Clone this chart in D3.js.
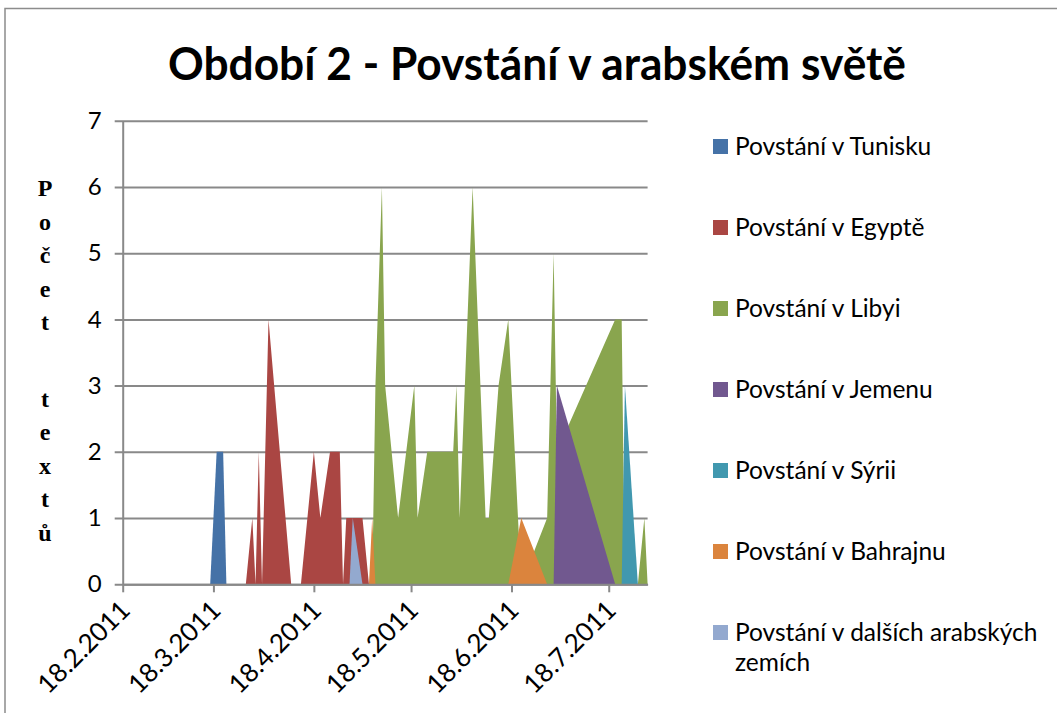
<!DOCTYPE html>
<html lang="cs">
<head>
<meta charset="utf-8">
<script src="https://cdn.jsdelivr.net/npm/d3@7"></script>
<style>
	body { margin: 0; background: #fff; }
	svg { display: block; font-family: Lato, 'Open Sans', sans-serif; }
</style>
</head>
<body>
<div id="chart"></div>
<script>
// THE DATA
const title = 'Období 2 - Povstání v arabském světě';
const yTitle = 'Počet textů';
const seriesNames = [
	'Povstání v Tunisku',
	'Povstání v Egyptě',
	'Povstání v Libyi',
	'Povstání v Jemenu',
	'Povstání v Sýrii',
	'Povstání v Bahrajnu',
	'Povstání v dalších arabských zemích'
];
const colours = ['#4572A7', '#AA4643', '#89A54E', '#71588F', '#4198AF', '#DB843D', '#93A9CF'];

// [date, number of texts] per series
const tunisia = [['17.3.2011', 0], ['19.3.2011', 2], ['21.3.2011', 2], ['22.3.2011', 0]];
const egypt = [
	['28.3.2011', 0], ['30.3.2011', 1], ['31.3.2011', 0], ['1.4.2011', 2], ['2.4.2011', 0],
	['4.4.2011', 4], ['11.4.2011', 0], ['14.4.2011', 0], ['18.4.2011', 2], ['20.4.2011', 1],
	['23.4.2011', 2], ['26.4.2011', 2], ['27.4.2011', 0], ['28.4.2011', 1], ['3.5.2011', 1],
	['5.5.2011', 0]
];
const libya = [
	['6.5.2011', 0], ['7.5.2011', 3], ['9.5.2011', 6], ['10.5.2011', 3], ['14.5.2011', 1],
	['19.5.2011', 3], ['20.5.2011', 1], ['23.5.2011', 2], ['31.5.2011', 2], ['1.6.2011', 3],
	['2.6.2011', 1], ['6.6.2011', 6], ['10.6.2011', 1], ['11.6.2011', 1], ['14.6.2011', 3],
	['17.6.2011', 4], ['21.6.2011', 0], ['29.6.2011', 1], ['1.7.2011', 5], ['2.7.2011', 2],
	['20.7.2011', 4], ['22.7.2011', 4], ['23.7.2011', 0], ['27.7.2011', 0], ['29.7.2011', 1],
	['30.7.2011', 0]
];
const yemen = [['1.7.2011', 0], ['2.7.2011', 3], ['20.7.2011', 0]];
const syria = [['22.7.2011', 0], ['23.7.2011', 3], ['27.7.2011', 0]];
const bahrain = [
	['5.5.2011', 0], ['6.5.2011', 1], ['7.5.2011', 0],
	['17.6.2011', 0], ['21.6.2011', 1], ['29.6.2011', 0]
];
const others = [['29.4.2011', 0], ['30.4.2011', 1], ['3.5.2011', 0]];

const seriesData = [tunisia, egypt, libya, yemen, syria, bahrain, others];
const xDomain = ['18.2.2011', '30.7.2011'];
const xTicks = ['18.2.2011', '18.3.2011', '18.4.2011', '18.5.2011', '18.6.2011', '18.7.2011'];
const yTicks = [0, 1, 2, 3, 4, 5, 6, 7];

// THE GOOD STUFF
const width = 1057;
const height = 713;
const plot = { left: 122.7, right: 647.6, top: 120.7, bottom: 584.3 };
const gridColour = '#898989';

const parseDate = d3.utcParse('%d.%m.%Y');
const formatDate = d3.utcFormat('%-d.%-m.%Y');

const svg = d3.select('#chart')
	.append('svg')
	.attr('width', width)
	.attr('height', height);

// outer chart border
svg.append('rect')
	.attr('x', 5)
	.attr('y', 8.5)
	.attr('width', width + 10)
	.attr('height', height + 10)
	.attr('fill', 'none')
	.attr('stroke', '#8c8c8c')
	.attr('stroke-width', 1.5);

const x = d3.scaleUtc()
	.domain(xDomain.map(parseDate))
	.range([plot.left, plot.right]);

const y = d3.scaleLinear()
	.domain([0, 7])
	.range([plot.bottom, plot.top]);

// gridlines (they stick out a bit left of the axis, like tick marks)
svg.append('g')
	.attr('class', 'gridline')
	.attr('transform', `translate(${plot.left - 8},0)`)
	.call(d3.axisRight(y)
		.tickValues(yTicks)
		.tickSize(plot.right - plot.left + 8)
		.tickFormat('')
	)
	.call(g => g.select('.domain').remove())
	.call(g => g.selectAll('line')
		.attr('stroke', gridColour)
		.attr('stroke-width', 2));

// areas, later series drawn on top
const area = d3.area()
	.x(d => x(parseDate(d[0])))
	.y0(y(0))
	.y1(d => y(d[1]));

seriesData.forEach((data, i) => {
	svg.append('path')
		.datum(data)
		.attr('class', 'area')
		.attr('fill', colours[i])
		.attr('d', area);
});

// y axis
svg.append('g')
	.attr('class', 'y-axis')
	.attr('transform', `translate(${plot.left},0)`)
	.call(d3.axisLeft(y)
		.tickValues(yTicks)
		.tickSize(0)
		.tickPadding(21)
		.tickFormat(d3.format('d'))
	)
	.call(g => g.select('.domain')
		.attr('stroke', gridColour)
		.attr('stroke-width', 2))
	.call(g => g.selectAll('text')
		.attr('fill', '#000')
		.style('font-size', '24px')
		.style('font-family', 'Lato, sans-serif'));

// x axis
svg.append('g')
	.attr('class', 'x-axis')
	.attr('transform', `translate(0,${plot.bottom})`)
	.call(d3.axisBottom(x)
		.tickValues(xTicks.map(parseDate))
		.tickSize(8)
		.tickSizeOuter(0)
		.tickFormat(formatDate)
	)
	.call(g => g.select('.domain')
		.attr('stroke', gridColour)
		.attr('stroke-width', 2))
	.call(g => g.selectAll('line')
		.attr('stroke', gridColour)
		.attr('stroke-width', 2))
	.call(g => g.selectAll('text')
		.attr('fill', '#000')
		.attr('x', 0)
		.attr('y', 0)
		.attr('dy', '0.35em')
		.attr('transform', 'translate(2,21) rotate(-45)')
		.style('text-anchor', 'end')
		.style('font-size', '26px')
		.style('font-family', 'Lato, sans-serif'));

// title
svg.append('text')
	.attr('class', 'headline')
	.attr('x', 537)
	.attr('y', 80)
	.attr('text-anchor', 'middle')
	.attr('textLength', 738)
	.attr('lengthAdjust', 'spacingAndGlyphs')
	.style('font-size', '45px')
	.style('font-weight', 700)
	.text(title);

// vertical y-axis title, one letter per line
const yTitleText = svg.append('text')
	.attr('class', 'y-title')
	.attr('text-anchor', 'middle')
	.style('font-family', '"Liberation Serif", "Times New Roman", serif')
	.style('font-weight', 700)
	.style('font-size', '24px');

let baseline = 196;
Array.from(yTitle).forEach(ch => {
	if (ch === ' ') {
		baseline += 43;
		return;
	}
	yTitleText.append('tspan')
		.attr('x', 45)
		.attr('y', baseline)
		.text(ch);
	baseline += 33.5;
});

// legend
const legend = svg.append('g')
	.attr('class', 'legend')
	.attr('transform', 'translate(713,139)');

seriesNames.forEach((name, i) => {
	const item = legend.append('g')
		.attr('transform', `translate(0,${i * 81})`);

	item.append('rect')
		.attr('width', 15)
		.attr('height', 15)
		.attr('fill', colours[i]);

	// the last name wraps onto a second line
	const label = item.append('text')
		.attr('x', 22)
		.attr('y', 15.5)
		.style('font-size', '24.5px');

	const words = name.split(' ');
	const lines = name.length > 30 ? [words.slice(0, -1).join(' '), words[words.length - 1]] : [name];
	lines.forEach((line, j) => {
		label.append('tspan')
			.attr('x', 22)
			.attr('dy', j === 0 ? 0 : 30)
			.text(line);
	});
});
</script>
</body>
</html>
